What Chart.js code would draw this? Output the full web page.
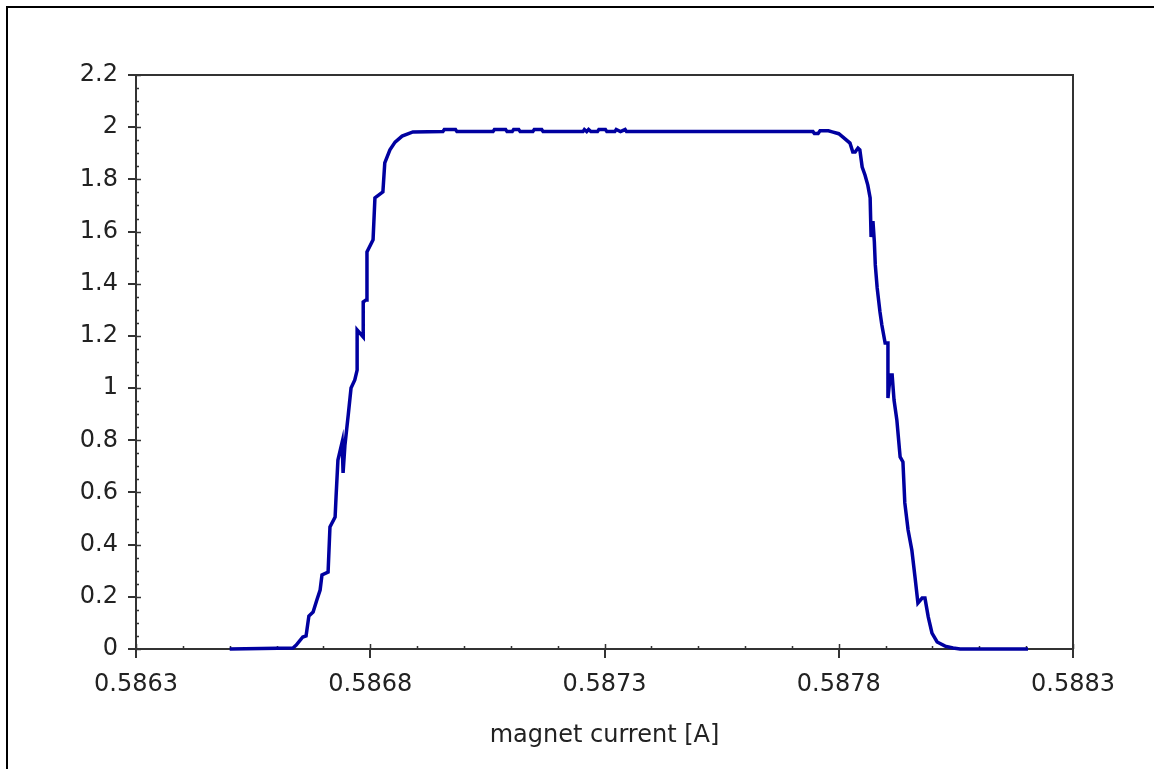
<!DOCTYPE html>
<html>
<head>
<meta charset="utf-8">
<title>magnet current scan</title>
<script src="https://cdn.jsdelivr.net/npm/chart.js@4/dist/chart.umd.min.js"></script>
<style>
  html, body { margin: 0; padding: 0; background: #fff; }
  canvas { display: block; }
</style>
</head>
<body>
<canvas id="scanChart" width="1154" height="769"></canvas>
<script>
// magnet current [A]
const current = [
    0.58650, 0.586635, 0.586642, 0.586656, 0.586663, 0.586669, 0.586678, 0.586686, 0.586693, 0.586697,
    0.586710, 0.586714, 0.586725, 0.586727, 0.586731, 0.586740, 0.586742, 0.586746, 0.586753, 0.586759,
    0.586767, 0.586772, 0.586772, 0.586785, 0.586785, 0.586791, 0.586793, 0.586806, 0.586810, 0.586827,
    0.586831, 0.586842, 0.586853, 0.586868, 0.586891,
    0.586955, 0.586958, 0.586982, 0.586985, 0.587062, 0.587065, 0.587089, 0.587092, 0.587103, 0.587106,
    0.587117, 0.587120, 0.587147, 0.587150, 0.587166, 0.587169, 0.587254, 0.587257, 0.587262, 0.587266,
    0.587271, 0.587285, 0.587288, 0.587302, 0.587305, 0.587322, 0.587325, 0.587334, 0.587344, 0.587347,
    0.587745, 0.587748, 0.587756, 0.587760, 0.587778, 0.587786,
    0.587800, 0.587809, 0.587824, 0.587830, 0.587835, 0.587841, 0.587845, 0.587850, 0.587856, 0.587862,
    0.587867, 0.587869, 0.587873, 0.587876, 0.587878, 0.587882, 0.587888, 0.587892, 0.587899, 0.587905,
    0.587905, 0.587910, 0.587914, 0.587918, 0.587924, 0.587931, 0.587937, 0.587941, 0.587948, 0.587956,
    0.587963, 0.587969, 0.587978, 0.587984, 0.587991, 0.587995, 0.587999, 0.588010, 0.588027, 0.588044,
    0.588059, 0.588204
];

// detector signal
const signal = [
    0, 0.004, 0.015, 0.046, 0.050, 0.126, 0.142, 0.188, 0.226, 0.284,
    0.295, 0.468, 0.506, 0.583, 0.724, 0.793, 0.675, 0.782, 0.897, 1.000,
    1.031, 1.069, 1.223, 1.196, 1.330, 1.338, 1.522, 1.568, 1.729, 1.752,
    1.863, 1.913, 1.943, 1.966, 1.982,
    1.983, 1.991, 1.991, 1.983, 1.983, 1.991, 1.991, 1.983, 1.983, 1.991,
    1.991, 1.983, 1.983, 1.991, 1.991, 1.983, 1.983, 1.991, 1.983, 1.991,
    1.983, 1.983, 1.991, 1.991, 1.983, 1.983, 1.991, 1.983, 1.991, 1.983,
    1.983, 1.976, 1.976, 1.986, 1.986, 1.982,
    1.975, 1.962, 1.939, 1.905, 1.905, 1.920, 1.913, 1.847, 1.817, 1.778,
    1.729, 1.579, 1.640, 1.560, 1.472, 1.384, 1.292, 1.242, 1.173, 1.173,
    0.962, 1.050, 1.050, 0.954, 0.878, 0.736, 0.717, 0.560, 0.456, 0.379,
    0.272, 0.176, 0.195, 0.195, 0.123, 0.092, 0.061, 0.027, 0.011, 0.004,
    0, 0
];

const xTicks = [0.5863, 0.5868, 0.5873, 0.5878, 0.5883];
const yTicks = [0, 0.2, 0.4, 0.6, 0.8, 1, 1.2, 1.4, 1.6, 1.8, 2, 2.2];
const xLabels = ['0.5863', '0.5868', '0.5873', '0.5878', '0.5883'];
const yLabels = ['0', '0.2', '0.4', '0.6', '0.8', '1', '1.2', '1.4', '1.6', '1.8', '2', '2.2'];

const axisColor = '#333333';
const fontSpec = { family: '"DejaVu Sans", sans-serif', size: 24 };

// outer frame, plot box and the small inside ticks (drawn under the curve)
const frameTicks = {
    id: 'frameTicks',
    beforeDraw(chart) {
        const ctx = chart.ctx;
        ctx.save();
        ctx.strokeStyle = '#000';
        ctx.lineWidth = 2;
        ctx.beginPath();
        ctx.moveTo(7, chart.height);
        ctx.lineTo(7, 7);
        ctx.lineTo(chart.width, 7);
        ctx.stroke();
        ctx.restore();
    },
    beforeDatasetsDraw(chart) {
        const ctx = chart.ctx;
        const a = chart.chartArea;
        const x = chart.scales.x;
        const y = chart.scales.y;
        ctx.save();
        ctx.strokeStyle = axisColor;
        ctx.lineWidth = 2;
        ctx.strokeRect(a.left, a.top, a.right - a.left, a.bottom - a.top);

        ctx.lineWidth = 1.5;
        ctx.beginPath();
        // x minor ticks every 0.0001
        for (let i = 0; i <= 20; i++) {
            const px = Math.round(x.getPixelForValue(0.5863 + i * 0.0001)) + 0.5;
            const len = (i % 5 === 0) ? 5 : 3;
            ctx.moveTo(px, a.bottom);
            ctx.lineTo(px, a.bottom - len);
        }
        // y minor ticks every 0.05
        for (let j = 0; j <= 44; j++) {
            const py = Math.round(y.getPixelForValue(j * 0.05)) + 0.5;
            const len = (j % 4 === 0) ? 5 : 3;
            ctx.moveTo(a.left, py);
            ctx.lineTo(a.left + len, py);
        }
        ctx.stroke();
        ctx.restore();
    }
};

const ctx = document.getElementById('scanChart').getContext('2d');

new Chart(ctx, {
    type: 'line',
    data: {
        datasets: [{
            data: current.map((c, i) => ({ x: c, y: signal[i] })),
            borderColor: '#0000a0',
            borderWidth: 3.5,
            pointRadius: 0,
            tension: 0,
            fill: false,
            clip: 4
        }]
    },
    options: {
        responsive: false,
        animation: false,
        layout: { padding: { left: 0, top: 75, right: 81, bottom: 0 } },
        plugins: {
            legend: { display: false },
            tooltip: { enabled: false }
        },
        scales: {
            x: {
                type: 'linear',
                min: 0.5863,
                max: 0.5883,
                afterBuildTicks: (scale) => { scale.ticks = xTicks.map(v => ({ value: v })); },
                afterFit: (scale) => { scale.height = 120; },
                ticks: {
                    autoSkip: false,
                    maxRotation: 0,
                    padding: 12,
                    color: '#222',
                    font: fontSpec,
                    callback: (value, index) => xLabels[index]
                },
                grid: {
                    drawOnChartArea: false,
                    drawTicks: true,
                    tickLength: 9,
                    color: axisColor,
                    lineWidth: 2
                },
                border: { display: true, color: axisColor, width: 2 },
                title: {
                    display: true,
                    text: 'magnet current [A]',
                    color: '#222',
                    font: fontSpec,
                    padding: { top: 0, bottom: 19 }
                }
            },
            y: {
                type: 'linear',
                min: 0,
                max: 2.2,
                afterBuildTicks: (scale) => { scale.ticks = yTicks.map(v => ({ value: v })); },
                afterFit: (scale) => { scale.width = 136; },
                ticks: {
                    autoSkip: false,
                    padding: 10,
                    color: '#222',
                    font: fontSpec,
                    callback: (value, index) => yLabels[index]
                },
                grid: {
                    drawOnChartArea: false,
                    drawTicks: true,
                    tickLength: 8,
                    color: axisColor,
                    lineWidth: 2
                },
                border: { display: true, color: axisColor, width: 2 }
            }
        }
    },
    plugins: [frameTicks]
});
</script>
</body>
</html>
